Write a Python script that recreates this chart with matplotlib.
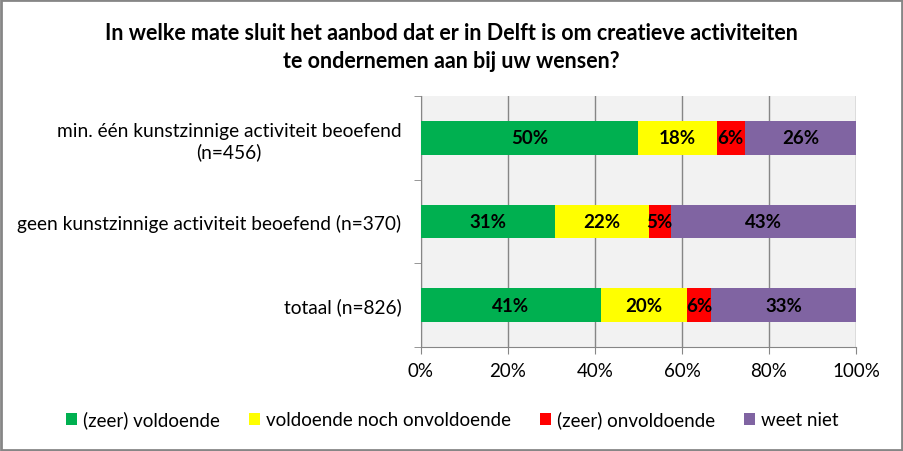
import numpy as np
import matplotlib
matplotlib.use("Agg")
import matplotlib.pyplot as plt
from matplotlib.patches import Rectangle

plt.rcParams['font.family'] = ['Lato', 'DejaVu Sans']

# data (percentages)
categories = ['min. één kunstzinnige activiteit beoefend\n(n=456)',
              'geen kunstzinnige activiteit beoefend (n=370)',
              'totaal (n=826)']
series_names = ['(zeer) voldoende', 'voldoende noch onvoldoende',
                '(zeer) onvoldoende', 'weet niet']
zeer_voldoende = [49.8, 30.7, 41.3]
noch = [18.2, 21.6, 19.8]
onvoldoende = [6.4, 5.1, 5.6]
weet_niet = [25.6, 42.6, 33.3]
colors = ['#00B050', '#FFFF00', '#FF0000', '#8064A2']
title = ('In welke mate sluit het aanbod dat er in Delft is om creatieve activiteiten\n'
         'te ondernemen aan bij uw wensen?')

fig = plt.figure(figsize=(9.04, 4.52), dpi=100)
ax = fig.add_axes([0.4657, 0.2301, 0.4812, 0.5553])
ax.set_facecolor('#F2F2F2')

y = np.arange(len(categories))[::-1]
left = np.zeros(len(categories))
handles = []
for name, vals, c in zip(series_names,
                         [zeer_voldoende, noch, onvoldoende, weet_niet], colors):
    vals = np.array(vals)
    h = ax.barh(y, vals, left=left, height=0.4, color=c, label=name, zorder=3)
    handles.append(h)
    for yi, l, v in zip(y, left, vals):
        ax.text(l + v / 2, yi, f'{v:.0f}%', ha='center', va='center',
                fontsize=13.5, fontweight='bold', color='black', zorder=4)
    left = left + vals

ax.set_xlim(0, 100)
ax.set_ylim(-0.5, 2.5)
ax.set_xticks(np.arange(0, 101, 20))
ax.set_xticklabels([f'{v}%' for v in range(0, 101, 20)], fontsize=13.5)
ax.grid(axis='x', color='#868686', linewidth=1, zorder=1)
ax.set_yticks(y)
ax.set_yticklabels(categories, fontsize=13.8)
ax.tick_params(axis='y', length=0, pad=14)
ax.set_yticks([-0.5, 0.5, 1.5, 2.5], minor=True)
ax.tick_params(axis='y', which='minor', length=5, color='#868686')
ax.tick_params(axis='x', length=5, color='#868686', pad=6)
for lbl in ax.get_yticklabels():
    lbl.set_multialignment('center')
for s in ['top', 'right']:
    ax.spines[s].set_visible(False)
for s in ['left', 'bottom']:
    ax.spines[s].set_color('#868686')

fig.text(0.499, 0.895, title, ha='center', va='center', fontsize=15.5,
         fontweight='bold', linespacing=1.45)

fig.legend(handles=handles, labels=series_names, loc='center',
           bbox_to_anchor=(0.5, 0.07), ncol=4, frameon=False, fontsize=13.5,
           handlelength=0.6, handleheight=0.6, handletextpad=0.3,
           columnspacing=1.55)

fig.patches.append(Rectangle((0.001, 0.002), 0.997, 0.996, transform=fig.transFigure,
                             fill=False, edgecolor='#868686', linewidth=2))

fig.savefig('out.png', dpi=100)
